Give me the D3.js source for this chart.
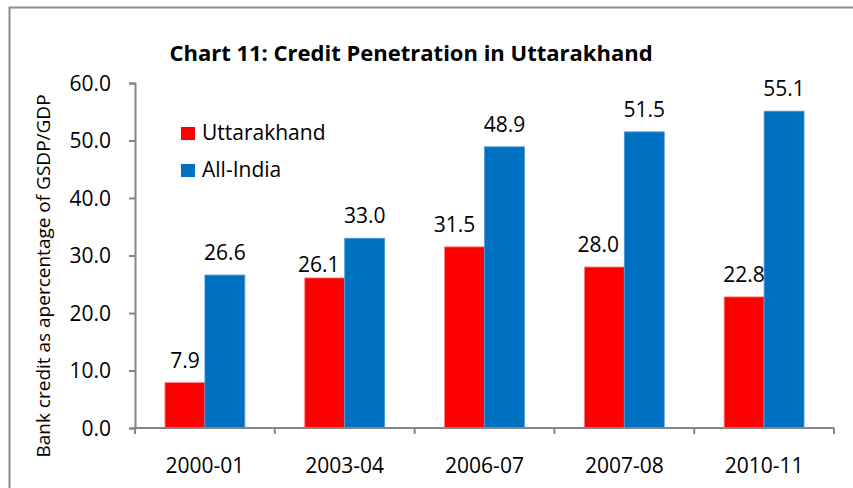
<!DOCTYPE html>
<html>
  <head>
    <meta charset="utf-8">
    <title>Chart 11</title>
    <style>
      body { margin: 0; background: #fff; }
      text { font-family: "Open Sans", "Noto Sans", sans-serif; fill: #000; }
    </style>
  </head>
  <body>
    <div id="container"></div>
    <script src="https://cdn.jsdelivr.net/npm/d3@7"></script>
    <script>
      var categories = ["2000-01", "2003-04", "2006-07", "2007-08", "2010-11"];
      var seriesNames = ["Uttarakhand", "All-India"];
      var uttarakhand = [7.9, 26.1, 31.5, 28.0, 22.8];
      var allIndia = [26.6, 33.0, 48.9, 51.5, 55.1];
      var yTicks = [0, 10, 20, 30, 40, 50, 60];
      var colors = ["#FF0000", "#0070C0"];
      var strokes = ["#FF8080", "#4F9AD8"];

      var W = 853, H = 488;
      var margin = {top: 83, right: 19, bottom: 60, left: 135},
        width = W - margin.left - margin.right,
        height = H - margin.top - margin.bottom;

      var svg = d3.select("#container").append("svg")
        .attr("width", W)
        .attr("height", H);

      // outer chart frame (runs off right/bottom like the screenshot)
      svg.append("rect")
        .attr("x", 9.5).attr("y", 7.5)
        .attr("width", W + 20).attr("height", H + 20)
        .style("fill", "none")
        .style("stroke", "#8c8c8c")
        .style("stroke-width", 2);

      svg.append("text")
        .attr("x", 411).attr("y", 61)
        .attr("text-anchor", "middle")
        .style("font-size", "22px")
        .style("font-weight", "bold")
        .text("Chart 11: Credit Penetration in Uttarakhand");

      var g = svg.append("g")
        .attr("transform", "translate(" + margin.left + "," + margin.top + ")");

      var x0 = d3.scaleBand().domain(categories).range([0, width]).paddingInner(0).paddingOuter(0);
      var x1 = d3.scaleBand().domain(seriesNames).range([0, x0.bandwidth()]).paddingInner(0).paddingOuter(0.75);
      var y = d3.scaleLinear().domain([0, 60]).range([height, 0]);

      var data = categories.map(function(c, i) {
        return {cat: c, i: i, vals: [uttarakhand[i], allIndia[i]]};
      });

      // label nudges (dx, dy) the original had for a few Uttarakhand labels
      var nudge = {"1-0": [-6, 9], "2-0": [-10, 0], "3-0": [-6, 0]};

      var groups = g.selectAll(".grp")
        .data(data)
        .enter().append("g")
        .attr("class", "grp")
        .attr("transform", function(d) { return "translate(" + x0(d.cat) + ",0)"; });

      function pts(d) {
        return d.vals.map(function(v, j) { return {s: seriesNames[j], v: v, j: j, key: d.i + "-" + j}; });
      }

      groups.selectAll("rect")
        .data(pts)
        .enter().append("rect")
        .attr("x", function(d) { return x1(d.s); })
        .attr("y", function(d) { return y(d.v); })
        .attr("width", x1.bandwidth())
        .attr("height", function(d) { return height - y(d.v); })
        .style("fill", function(d) { return colors[d.j]; })
        .style("stroke", function(d) { return strokes[d.j]; })
        .style("stroke-width", 0.8);

      groups.selectAll(".lbl")
        .data(pts)
        .enter().append("text")
        .attr("class", "lbl")
        .attr("x", function(d) { return x1(d.s) + x1.bandwidth() / 2 + (nudge[d.key] ? nudge[d.key][0] : 0); })
        .attr("y", function(d) { return y(d.v) - 15 + (nudge[d.key] ? nudge[d.key][1] : 0); })
        .attr("text-anchor", "middle")
        .style("font-size", "21px")
        .text(function(d) { return d.v.toFixed(1); });

      // y axis
      var yAxis = g.append("g")
        .call(d3.axisLeft(y).tickValues(yTicks).tickFormat(d3.format(".1f")).tickSize(6).tickPadding(18));
      yAxis.selectAll("text").style("font-size", "21px").attr("dy", "0.35em");

      // x axis: ticks at category boundaries
      var xAxis = g.append("g").attr("transform", "translate(0," + height + ")");
      xAxis.append("line")
        .attr("x1", 0).attr("x2", width)
        .attr("y1", 0).attr("y2", 0);
      xAxis.selectAll(".tk")
        .data(categories.concat(["end"]))
        .enter().append("line")
        .attr("class", "tk")
        .attr("x1", function(d, i) { return i < categories.length ? x0(d) : width; })
        .attr("x2", function(d, i) { return i < categories.length ? x0(d) : width; })
        .attr("y1", 0).attr("y2", 6);
      xAxis.selectAll("text")
        .data(categories)
        .enter().append("text")
        .attr("x", function(d) { return x0(d) + x0.bandwidth() / 2; })
        .attr("y", 45)
        .attr("text-anchor", "middle")
        .style("font-size", "21px")
        .text(function(d) { return d; });

      g.selectAll(".domain, line").style("stroke", "#868686").style("stroke-width", 2);

      // y label
      svg.append("text")
        .attr("transform", "translate(50,276) rotate(-90)")
        .attr("text-anchor", "middle")
        .style("font-size", "19px")
        .text("Bank credit as apercentage of GSDP/GDP");

      // legend
      var legend = svg.append("g").attr("transform", "translate(181,127)");
      seriesNames.forEach(function(s, i) {
        legend.append("rect")
          .attr("x", 0).attr("y", i * 37)
          .attr("width", 14).attr("height", 13)
          .style("fill", colors[i]);
        legend.append("text")
          .attr("x", 21).attr("y", i * 37 + 13)
          .style("font-size", "21px")
          .text(s);
      });
    </script>
  </body>
</html>
